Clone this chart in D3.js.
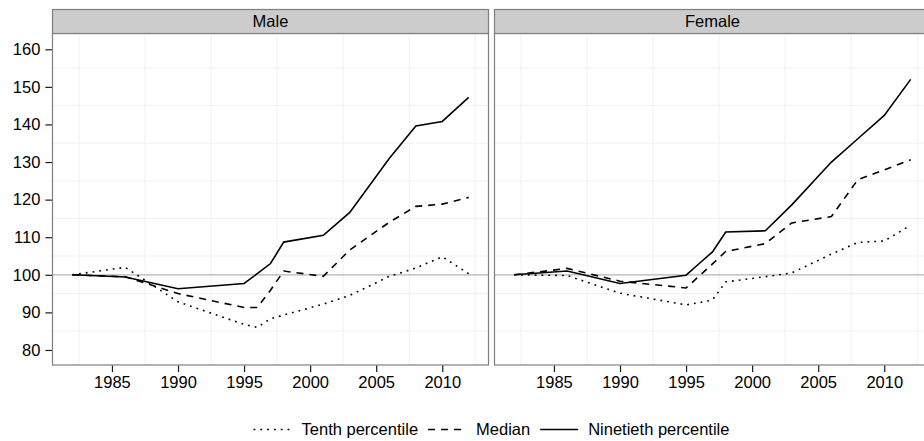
<!DOCTYPE html>
<html>
<head>
<meta charset="utf-8">
<script src="https://cdn.jsdelivr.net/npm/d3@7"></script>
<style>
  body { margin: 0; background: #fff; }
  text { font-family: "Liberation Sans", Arial, sans-serif; font-size: 16.5px; fill: #000; }
</style>
</head>
<body>
<div id="chart"></div>
<script>
const years = [1982, 1986, 1990, 1995, 1996, 1997, 1998, 2001, 2003, 2006, 2008, 2010, 2012];
const panelNames = ['Male', 'Female'];

const maleTenth = [100, 102.0, 92.8, 86.8, 86.0, 88.3, 89.3, 92.2, 94.5, 99.6, 101.8, 104.8, 100.3];
const maleMedian = [100, 99.5, 95.0, 91.3, 91.3, 95.9, 101.0, 99.6, 106.6, 114.0, 118.2, 118.8, 120.6];
const maleNinetieth = [100, 99.4, 96.3, 97.7, 100.3, 103.0, 108.7, 110.5, 116.6, 131.0, 139.6, 140.8, 147.2];

const femaleTenth = [100, 99.8, 95.1, 92.0, 92.6, 93.3, 98.1, 99.5, 100.5, 105.5, 108.6, 109.0, 113.2];
const femaleMedian = [100, 101.7, 98.3, 96.5, 99.7, 102.9, 106.2, 108.3, 113.8, 115.5, 125.3, 127.9, 130.6];
const femaleNinetieth = [100, 101.0, 97.7, 99.9, 103.0, 106.1, 111.4, 111.7, 118.6, 130.0, 136.2, 142.4, 152.0];

const seriesNames = ['Tenth percentile', 'Median', 'Ninetieth percentile'];
const xTicks = [1985, 1990, 1995, 2000, 2005, 2010];
const yTicks = [80, 90, 100, 110, 120, 130, 140, 150, 160];
const baseline = 100;

const panelData = {
  Male: [maleTenth, maleMedian, maleNinetieth],
  Female: [femaleTenth, femaleMedian, femaleNinetieth]
};

// Line patterns for the three series.
const dashes = ['1.8,5', '7,6', null];
const lineW = 1.6;

const width = 924;
const height = 441;
const panelW = 436;
const panelLeft = [52.5, 494.5];
const stripTop = 9.5;
const stripH = 24;
const panelTop = stripTop + stripH;
const panelBottom = 365;
const tickLen = 6.5;

let svg = d3.select('#chart')
  .append('svg')
  .attr('width', width)
  .attr('height', height);

let x = d3.scaleLinear().domain([1980.5, 2013.5]).range([0, panelW]);
let y = d3.scaleLinear().domain([76, 164.2]).range([panelBottom, panelTop]);

let line = d3.line()
  .x(d => x(d[0]))
  .y(d => y(d[1]));

panelNames.forEach((name, p) => {
  let g = svg.append('g')
    .attr('transform', `translate(${panelLeft[p]},0)`);

  // Panel background.
  g.append('rect')
    .attr('x', 0)
    .attr('y', panelTop)
    .attr('width', panelW)
    .attr('height', panelBottom - panelTop)
    .attr('fill', '#fff');

  // Minor grid only; majors are hidden in the reference.
  let minorX = d3.range(1982.5, 2013.5, 5);
  let minorY = d3.range(85, 165, 10);
  g.selectAll('line.gx')
    .data(minorX)
    .enter()
    .append('line')
      .attr('x1', d => x(d))
      .attr('x2', d => x(d))
      .attr('y1', panelTop)
      .attr('y2', panelBottom)
      .attr('stroke', '#f1f1f1')
      .attr('stroke-width', 1);
  g.selectAll('line.gy')
    .data(minorY)
    .enter()
    .append('line')
      .attr('x1', 0)
      .attr('x2', panelW)
      .attr('y1', d => y(d))
      .attr('y2', d => y(d))
      .attr('stroke', '#f1f1f1')
      .attr('stroke-width', 1);

  // Reference line at 100.
  g.append('line')
    .attr('x1', 0)
    .attr('x2', panelW)
    .attr('y1', y(baseline))
    .attr('y2', y(baseline))
    .attr('stroke', '#b3b3b3')
    .attr('stroke-width', 1.3);

  panelData[name].forEach((vals, i) => {
    g.append('path')
      .datum(years.map((yr, j) => [yr, vals[j]]))
      .attr('d', line)
      .attr('fill', 'none')
      .attr('stroke', '#000')
      .attr('stroke-width', lineW)
      .attr('stroke-dasharray', dashes[i]);
  });

  // Panel border.
  g.append('rect')
    .attr('x', 0)
    .attr('y', panelTop)
    .attr('width', panelW)
    .attr('height', panelBottom - panelTop)
    .attr('fill', 'none')
    .attr('stroke', '#7f7f7f')
    .attr('stroke-width', 1.2);

  // Strip.
  g.append('rect')
    .attr('x', 0)
    .attr('y', stripTop)
    .attr('width', panelW)
    .attr('height', stripH)
    .attr('fill', '#cccccc')
    .attr('stroke', '#7f7f7f')
    .attr('stroke-width', 1.2);
  g.append('text')
    .attr('x', panelW / 2)
    .attr('y', stripTop + stripH / 2)
    .attr('dy', '0.35em')
    .attr('text-anchor', 'middle')
    .text(name);

  // X axis.
  let xAxis = d3.axisBottom(x)
    .tickValues(xTicks)
    .tickSize(tickLen)
    .tickPadding(4)
    .tickFormat(d3.format('d'));
  let xg = g.append('g')
    .attr('transform', `translate(0,${panelBottom + 0.6})`)
    .call(xAxis);
  xg.select('.domain').remove();
  xg.selectAll('line').attr('stroke', '#1a1a1a').attr('stroke-width', 1.2);
  xg.selectAll('text').attr('font-size', null).attr('font-family', null).attr('fill', '#1a1a1a');

  // Y axis only on the first panel.
  if (p === 0) {
    let yAxis = d3.axisLeft(y)
      .tickValues(yTicks)
      .tickSize(tickLen)
      .tickPadding(5);
    let yg = g.append('g')
      .attr('transform', 'translate(-0.6,0)')
      .call(yAxis);
    yg.select('.domain').remove();
    yg.selectAll('line').attr('stroke', '#1a1a1a').attr('stroke-width', 1.2);
    yg.selectAll('text').attr('font-size', null).attr('font-family', null).attr('fill', '#1a1a1a');
  }
});

// Legend, centred under the panels.
const keyW = 38;
const keyGap = 10;
const itemGap = 10;
const legendY = 429.5;

let legend = svg.append('g');
let items = legend.selectAll('g.item')
  .data(seriesNames)
  .enter()
  .append('g');

items.append('line')
  .attr('x1', 0)
  .attr('x2', keyW)
  .attr('y1', 0)
  .attr('y2', 0)
  .attr('stroke', '#000')
  .attr('stroke-width', lineW)
  .attr('stroke-dasharray', (d, i) => dashes[i]);

items.append('text')
  .attr('x', keyW + keyGap)
  .attr('y', 0)
  .attr('dy', '0.35em')
  .text(d => d);

let offset = 0;
items.each(function() {
  let w = keyW + keyGap + this.querySelector('text').getComputedTextLength();
  d3.select(this).attr('transform', `translate(${offset},0)`);
  offset += w + itemGap;
});
let total = offset - itemGap;
let centre = (panelLeft[0] + panelLeft[1] + panelW) / 2;
legend.attr('transform', `translate(${centre - total / 2},${legendY})`);
</script>
</body>
</html>
